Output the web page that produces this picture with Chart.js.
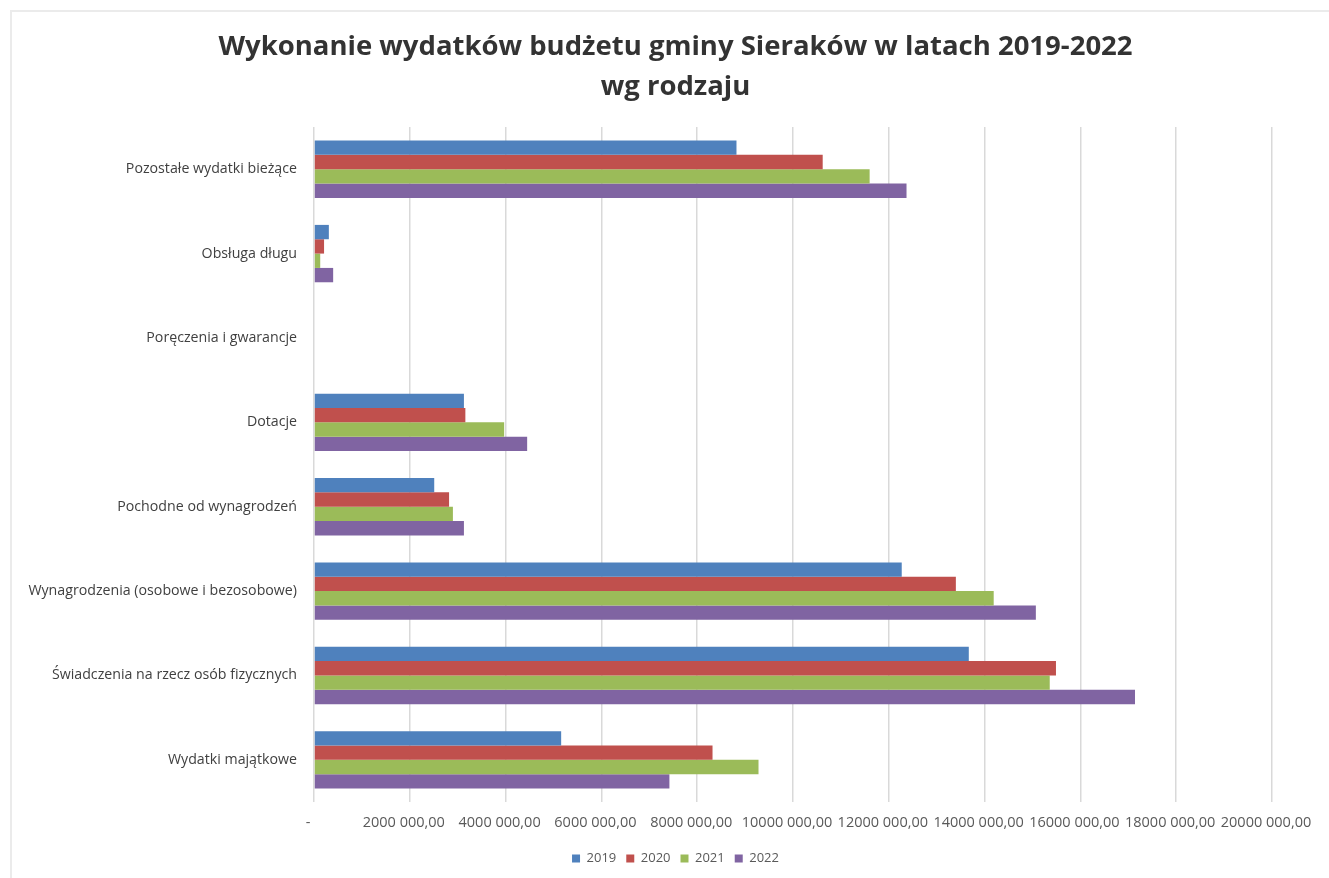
<!DOCTYPE html>
<html lang="pl">
<head>
<meta charset="utf-8">
<title>Wykonanie wydatków budżetu gminy Sieraków</title>
<script src="https://cdn.jsdelivr.net/npm/chart.js@4.4.1/dist/chart.umd.min.js"></script>
<style>
    html, body {
        margin: 0;
        padding: 0;
        background: #ffffff;
        overflow: hidden;
    }
    .frame {
        position: absolute;
        left: 10px;
        top: 10px;
        width: 1317px;
        height: 866px;
        border: 2px solid #ebebeb;
        background: #ffffff;
    }
    #budgetChart {
        display: block;
    }
</style>
</head>
<body>
<div class="frame">
    <canvas id="budgetChart" width="1317" height="866"></canvas>
</div>
<script>
// Categories, top to bottom as in the chart
const categories = [
    'Pozostałe wydatki bieżące',
    'Obsługa długu',
    'Poręczenia i gwarancje',
    'Dotacje',
    'Pochodne od wynagrodzeń',
    'Wynagrodzenia (osobowe i bezosobowe)',
    'Świadczenia na rzecz osób fizycznych',
    'Wydatki majątkowe'
];

const years = ['2019', '2020', '2021', '2022'];

// Expenditure in PLN
const values2019 = [8820000, 310000, 0, 3130000, 2510000, 12270000, 13670000, 5160000];
const values2020 = [10620000, 210000, 0, 3160000, 2820000, 13400000, 15490000, 8320000];
const values2021 = [11600000, 130000, 0, 3970000, 2900000, 14190000, 15360000, 9280000];
const values2022 = [12370000, 400000, 0, 4450000, 3130000, 15070000, 17140000, 7420000];

const tickLabels = [
    '-', '2000 000,00', '4000 000,00', '6000 000,00', '8000 000,00', '10000 000,00',
    '12000 000,00', '14000 000,00', '16000 000,00', '18000 000,00', '20000 000,00'
];

const seriesColors = ['#4f81bd', '#c0504d', '#9bbb59', '#8064a2'];

const seriesValues = [values2019, values2020, values2021, values2022];
const datasets = years.map((year, i) => ({
    label: year,
    data: seriesValues[i],
    backgroundColor: seriesColors[i],
    borderWidth: 0,
    barPercentage: 1,
    categoryPercentage: 0.68
}));

const ctx = document.getElementById('budgetChart').getContext('2d');
new Chart(ctx, {
    type: 'bar',
    data: {
        labels: categories,
        datasets: datasets
    },
    options: {
        indexAxis: 'y',
        responsive: false,
        animation: false,
        layout: {
            padding: { left: 10, right: 0, top: 0, bottom: 3 }
        },
        scales: {
            x: {
                min: 0,
                max: 20000000,
                afterFit: (scale) => {
                    scale.height = 40;
                    scale.paddingRight = 57;
                },
                ticks: {
                    stepSize: 2000000,
                    autoSkip: false,
                    maxRotation: 0,
                    padding: 12,
                    labelOffset: -6,
                    color: '#595959',
                    font: { family: 'Open Sans', size: 14.5 },
                    callback: (value, index) => tickLabels[index]
                },
                grid: {
                    color: '#d9d9d9',
                    lineWidth: 1.5,
                    drawTicks: false
                },
                border: { display: false }
            },
            y: {
                afterFit: (scale) => { scale.width = 292; },
                ticks: {
                    padding: 17,
                    color: '#404040',
                    font: { family: 'Open Sans', size: 14.2 }
                },
                grid: { display: false, drawTicks: false },
                border: { display: false }
            }
        },
        plugins: {
            title: {
                display: true,
                text: ['Wykonanie wydatków budżetu gminy Sieraków w latach 2019-2022', 'wg rodzaju'],
                color: '#333333',
                font: { family: 'Open Sans', size: 27.5, weight: 'bold', lineHeight: 1.455 },
                padding: { top: 15, bottom: 20 }
            },
            legend: {
                position: 'bottom',
                labels: {
                    boxWidth: 8,
                    boxHeight: 8,
                    padding: 10,
                    color: '#595959',
                    font: { family: 'Open Sans', size: 13 }
                }
            },
            tooltip: { enabled: false }
        }
    }
});
</script>
</body>
</html>
